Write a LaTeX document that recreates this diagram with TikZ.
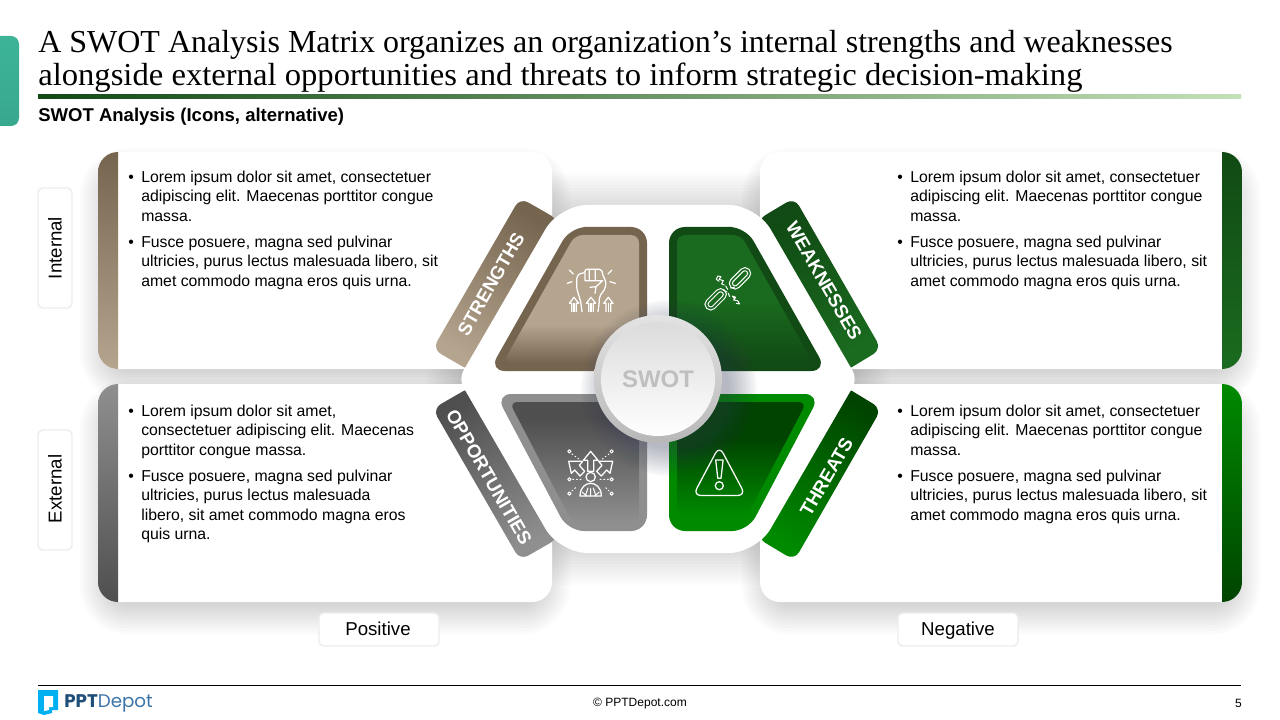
\documentclass[tikz,border=0pt]{standalone}
\usepackage{fontspec}
\setmainfont{Liberation Sans}
\newfontfamily\titlefont{Liberation Serif}
\newfontfamily\logofont{Poppins}
\definecolor{brD}{HTML}{75654F}\definecolor{brL}{HTML}{B5A48E}
\definecolor{grD}{HTML}{114A14}\definecolor{grL}{HTML}{1A6B1F}
\definecolor{gyD}{HTML}{4F4F4F}\definecolor{gyL}{HTML}{8F8F8F}
\definecolor{thD}{HTML}{004400}\definecolor{thL}{HTML}{008A00}
\definecolor{ruleL}{HTML}{C4E0B8}\definecolor{teal1}{HTML}{3DB497}\definecolor{teal2}{HTML}{38A88D}
\definecolor{glow}{HTML}{3A4060}\definecolor{logoC}{HTML}{00B0F0}
\definecolor{logoD}{HTML}{1F4E79}\definecolor{logoL}{HTML}{3A74A8}
\pgfdeclareverticalshading{tUL}{100bp}{color(0bp)=(brD);color(25bp)=(brD);color(40bp)=(brL);color(100bp)=(brL)}
\pgfdeclareverticalshading{tUR}{100bp}{color(0bp)=(grD);color(25bp)=(grD);color(50bp)=(grL);color(100bp)=(grL)}
\pgfdeclareverticalshading{tLL}{100bp}{color(0bp)=(gyL);color(25bp)=(gyL);color(68bp)=(gyD);color(100bp)=(gyD)}
\pgfdeclareverticalshading{tLR}{100bp}{color(0bp)=(thL);color(28bp)=(thL);color(60bp)=(thD);color(100bp)=(thD)}
\tikzset{
  x=0.75pt,y=-0.75pt,
  body/.style={anchor=north west,inner sep=0pt,align=left,text=black,font=\fontsize{11.85}{14.6}\selectfont},
  tablabel/.style={text=white,inner sep=0pt,font=\fontsize{14}{16}\bfseries\selectfont},
  axisbox/.style={draw=black!7,line width=1.1pt,fill=white,rounded corners=3.5pt},
  axislabel/.style={inner sep=0pt,text=black,font=\fontsize{14}{16}\selectfont},
  icon/.style={draw=white,line width=0.95pt,line join=round,line cap=round},
  iconthin/.style={draw=white,line width=0.75pt,line join=round,line cap=round},
}
\newcommand{\bu}{\makebox[9.75pt][l]{\textbullet}}
\newcommand{\nb}{\hspace*{9.75pt}}
\newcommand{\softrect}[4]{%
  \foreach \d in {-30,-27,...,18}{%
    \pgfmathsetmacro\rr{max(3,(30+\d)*0.75)}%
    \fill[black,opacity=0.015,rounded corners=\rr pt] ({#1-\d},{#2-\d+14}) rectangle ({#3+\d},{#4+\d+14});
  }}
\newcommand{\hexpath}[1]{({559.5-0.577*#1},{205-#1}) -- ({756.5+0.577*#1},{205-#1}) -- ({857.4+1.155*#1},379) -- ({756.5+0.577*#1},{553+#1}) -- ({559.5-0.577*#1},{553+#1}) -- ({458.6-1.155*#1},379) -- cycle}
\begin{document}
\begin{tikzpicture}
\useasboundingbox (0,0) rectangle (1280,720);
\clip (0,0) rectangle (1280,720);
\fill[white] (0,0) rectangle (1280,720);
% header
\shade[top color=teal1,bottom color=teal2,rounded corners=6pt] (-20,36) rectangle (19,126);
\node[anchor=base west,inner sep=0pt,font=\fontsize{24}{28}\titlefont\selectfont] (title1) at (38,53) {A SWOT Analysis Matrix organizes an organization’s internal strengths and weaknesses};
\node[anchor=base west,inner sep=0pt,xscale=1.02,font=\fontsize{24}{28}\titlefont\selectfont] (title2) at (38,86) {alongside external opportunities and threats to inform strategic decision-making};
\shade[left color=grD,right color=ruleL] (38,95) rectangle (1241,99);
\node[anchor=base west,inner sep=0pt,font=\fontsize{13.9}{16}\bfseries\selectfont] (sub) at (38,121.5) {SWOT Analysis (Icons, alternative)};
% shadows
\foreach \d in {-16,-13,...,32}{\fill[black,opacity=0.011,rounded corners=12pt] \hexpath{\d};}
\softrect{98}{152}{552}{369}
\softrect{98}{384}{552}{602}
\softrect{760}{152}{1242}{369}
\softrect{760}{384}{1242}{602}
% panels
\fill[white,rounded corners=15pt] (98,152) rectangle (552,369);
\fill[white,rounded corners=15pt] (98,384) rectangle (552,602);
\fill[white,rounded corners=15pt] (760,152) rectangle (1242,369);
\fill[white,rounded corners=15pt] (760,384) rectangle (1242,602);
\begin{scope}\clip[rounded corners=15pt] (98,152) rectangle (300,369);
\shade[top color=brD,bottom color=brL] (98,152) rectangle (118,369);\end{scope}
\begin{scope}\clip[rounded corners=15pt] (98,384) rectangle (300,602);
\shade[top color=gyL,bottom color=gyD] (98,384) rectangle (118,602);\end{scope}
\begin{scope}\clip[rounded corners=15pt] (1000,152) rectangle (1242,369);
\shade[top color=grD,bottom color=grL] (1222,152) rectangle (1242,369);\end{scope}
\begin{scope}\clip[rounded corners=15pt] (1000,384) rectangle (1242,602);
\shade[top color=thL,bottom color=thD] (1222,384) rectangle (1242,602);\end{scope}
% panel text
\node[body] (tUL) at (128,170.5) {\bu Lorem ipsum dolor sit amet, consectetuer\\\nb adipiscing elit. Maecenas porttitor congue\\\nb massa.\\[4.9pt]\bu Fusce posuere, magna sed pulvinar\\\nb ultricies, purus lectus malesuada libero, sit\\\nb amet commodo magna eros quis urna.};
\node[body] (tUR) at (897,170.5) {\bu Lorem ipsum dolor sit amet, consectetuer\\\nb adipiscing elit. Maecenas porttitor congue\\\nb massa.\\[4.9pt]\bu Fusce posuere, magna sed pulvinar\\\nb ultricies, purus lectus malesuada libero, sit\\\nb amet commodo magna eros quis urna.};
\node[body] (tLL) at (128,404.5) {\bu Lorem ipsum dolor sit amet,\\\nb consectetuer adipiscing elit. Maecenas\\\nb porttitor congue massa.\\[4.9pt]\bu Fusce posuere, magna sed pulvinar\\\nb ultricies, purus lectus malesuada\\\nb libero, sit amet commodo magna eros\\\nb quis urna.};
\node[body] (tLR) at (897,404.5) {\bu Lorem ipsum dolor sit amet, consectetuer\\\nb adipiscing elit. Maecenas porttitor congue\\\nb massa.\\[4.9pt]\bu Fusce posuere, magna sed pulvinar\\\nb ultricies, purus lectus malesuada libero, sit\\\nb amet commodo magna eros quis urna.};
% axis boxes
\draw[axisbox] (38,188) rectangle (72,308);
\node[axislabel,rotate=90] (internal) at (55,248) {Internal};
\draw[axisbox] (38,430) rectangle (72,550);
\node[axislabel,rotate=90] (external) at (55,489) {External};
\draw[axisbox] (319,613) rectangle (439,646);
\node[axislabel,anchor=base] (positive) at (378,635.5) {Positive};
\draw[axisbox] (898,613) rectangle (1018,646);
\node[axislabel,anchor=base] (negative) at (958,635.5) {Negative};
% tabs
\shade[top color=brD,bottom color=brL,shading angle=-30,rounded corners=7pt] (476.35,273.45) -- (520.1,197.7) -- (559.1,220.2) -- (471.6,371.7) -- (432.6,349.2) -- cycle;
\shade[top color=grD,bottom color=grL,shading angle=30,rounded corners=7pt] (837.9,273.45) -- (794.4,197.7) -- (756.9,220.2) -- (844.4,371.7) -- (881.4,349.2) -- cycle;
\shade[top color=gyD,bottom color=gyL,shading angle=30,rounded corners=7pt] (476.35,484.55) -- (520.1,560.3) -- (559.1,537.8) -- (471.6,386.3) -- (432.6,408.8) -- cycle;
\shade[top color=thD,bottom color=thL,shading angle=-30,rounded corners=7pt] (837.9,484.55) -- (794.4,560.3) -- (756.9,537.8) -- (844.4,386.3) -- (881.4,408.8) -- cycle;
\node[tablabel,rotate=60] (lS) at (491,284) {STRENGTHS};
\node[tablabel,rotate=-60] (lW) at (824,281) {WEAKNESSES};
\node[tablabel,rotate=-60] (lO) at (489,477) {OPPORTUNITIES};
\node[tablabel,rotate=60] (lT) at (826.5,477) {THREATS};
% hexagon
\fill[white] (658,205) [rounded corners=21pt] -- (756.5,205) [rounded corners=7pt] -- (857.4,379) [rounded corners=21pt] -- (756.5,553) -- (559.5,553) [rounded corners=7pt] -- (458.6,379) [rounded corners=21pt] -- (559.5,205) -- cycle;
% trapezoids
\fill[brD,rounded corners=12pt] (600,227) -- (647,227) -- (647,371) -- (489,371) -- (570.4,227) -- cycle;
\shade[shading=tUL,rounded corners=6pt] (600,235) -- (639,235) -- (639,363) -- (502.9,363) -- (575,235) -- cycle;
\fill[brD] (560,363) rectangle (647,371);
\fill[grD,rounded corners=12pt] (716,227) -- (669,227) -- (669,371) -- (827,371) -- (745.6,227) -- cycle;
\shade[shading=tUR,rounded corners=6pt] (716,235) -- (677,235) -- (677,363) -- (813.1,363) -- (741,235) -- cycle;
\fill[gyL,rounded corners=12pt] (600,394) -- (647,394) -- (647,531) -- (568,531) -- (495.6,394) -- cycle;
\shade[shading=tLL,rounded corners=6pt] (600,402) -- (639,402) -- (639,523) -- (572.6,523) -- (509.4,402) -- cycle;
\fill[thL,rounded corners=12pt] (716,394) -- (669,394) -- (669,531) -- (748,531) -- (820.4,394) -- cycle;
\shade[shading=tLR,rounded corners=6pt] (716,402) -- (677,402) -- (677,523) -- (743.4,523) -- (806.6,402) -- cycle;
% fist icon
\begin{scope}[shift={(560,260)},x=0.25pt,y=-0.25pt]
\draw[icon] (28,30)--(40,42) (22,70)--(36,65) (156,30)--(144,42) (166,70)--(150,65);
\draw[icon,rounded corners=1.5pt] (62,125)--(50,85)--(50,50)--(62,38)--(75,40)--(75,28)--(125,28)--(130,52)--(138,62)--(136,85)--(118,110)--(118,125);
\draw[icon] (88,28)--(88,58) (106,28)--(106,58) (75,40)--(75,62)--(128,62) (128,62)--(108,80)--(90,82) (108,80)--(105,100);
\draw[icon] (62,125)--(66,155) (118,125)--(114,155);
\foreach \c in {42,93,145}{
 \draw[icon] ({\c-7},155)--({\c-7},130)--({\c-14},130)--(\c,112)--({\c+14},130)--({\c+7},130)--({\c+7},155);
 \draw[icon] (\c,130)--(\c,155);}
\end{scope}
% chain icon
\begin{scope}[shift={(695,260)},x=0.25pt,y=-0.25pt]
\foreach \cx/\cy/\l in {135/55/38,62/118/38}{
 \draw[iconthin,rotate around={45:(\cx,\cy)},rounded corners=4pt] ({\cx-\l},{\cy-17}) rectangle ({\cx+\l},{\cy+17});
 \draw[iconthin,rotate around={45:(\cx,\cy)},rounded corners=2pt] ({\cx-\l+9},{\cy-8}) rectangle ({\cx+\l-9},{\cy+8});}
\draw[iconthin] (68,48)--(78,50)--(72,58)--(85,62)--(80,72)--(88,75) (68,48)--(64,58)--(72,64);
\draw[iconthin] (112,108)--(122,112)--(116,120)--(128,122)--(134,132)--(124,130) (112,108)--(118,116);
\draw[iconthin] (92,78)--(98,88) (106,84)--(118,82) (84,90)--(96,96) (100,100)--(104,110);
\end{scope}
% people icon
\begin{scope}[shift={(560,442)},x=0.25pt,y=-0.25pt]
\draw[icon] (92,28)--(70,55)--(83,55)--(83,88)--(101,88)--(101,55)--(114,55)--cycle;
\draw[icon] (26,58)--(68,58)--(58,70)--(74,88)--(60,102)--(44,84)--(34,94)--cycle;
\draw[icon] (158,58)--(116,58)--(126,70)--(110,88)--(124,102)--(140,84)--(150,94)--cycle;
\draw[icon] (92,105) circle[radius=14];
\draw[icon] (60,162) .. controls (60,135) and (78,124) .. (92,124) .. controls (106,124) and (124,135) .. (124,162) -- cycle;
\draw[iconthin] (92,162)--(92,140) (76,162)--(84,138) (108,162)--(100,138) (66,150)--(80,162) (118,150)--(104,162);
\foreach \ptx/\pty in {28/28,155/28,28/112,155/112,28/155,155/155}{\draw[iconthin] (\ptx,\pty) circle[radius=5];}
\draw[iconthin,dotted] (36,36)--(58,52) (147,36)--(126,52) (38,112)--(70,112) (145,112)--(114,112) (36,147)--(52,132) (147,147)--(132,132);
\end{scope}
% warning icon
\draw[icon,rounded corners=6pt] (719.3,446) -- (693,495.5) -- (745.6,495.5) -- cycle;
\draw[icon] (715.7,460) -- (723.1,460) -- (721,478.3) -- (717.8,478.3) -- cycle;
\draw[icon] (719.3,485.7) circle[radius=4];
% glow and hub
\foreach \r in {60,62,...,88}{\fill[glow,opacity=0.028] (669,388) circle[radius=\r];}
\shade[top color=black!11,bottom color=black!28] (658,379) circle[radius=64];
\shade[top color=black!14,bottom color=white] (658,379) circle[radius=57];
\node[inner sep=0pt,text=black!25,font=\fontsize{18}{20}\bfseries\selectfont] (hub) at (658,379) {SWOT};
% footer
\draw[black,line width=0.75pt] (38,685.5) -- (1241,685.5);
\fill[logoC] (38,690)--(58,690)--(58,710)--(52,710)--(52,713)--(44,715)--(38,713)--cycle;
\fill[white] (44,696)--(53,696)--(53,707)--(49,707)--(49,710)--(44,711)--cycle;
\node[anchor=west,inner sep=0pt,font=\fontsize{13.7}{16}\logofont\selectfont] (logo) at (64,703) {\textcolor{logoD}{\bfseries PPT}\textcolor{logoL}{Depot}};
\node[inner sep=0pt,font=\fontsize{9}{11}\selectfont] (copy) at (640,704) {© PPTDepot.com};
\node[anchor=east,inner sep=0pt,font=\fontsize{9}{11}\selectfont] (pg) at (1242,703) {5};
\end{tikzpicture}
\end{document}
